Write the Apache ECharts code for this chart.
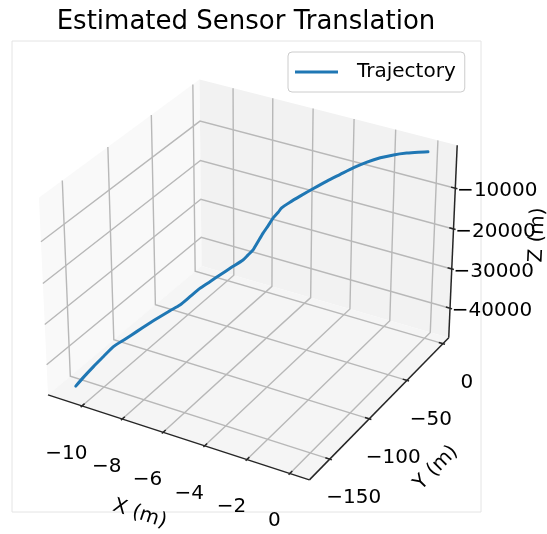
<!DOCTYPE html>
<html><head><meta charset="utf-8">
<script src="https://cdn.jsdelivr.net/npm/echarts@6/dist/echarts.min.js"></script>
<style>html,body{margin:0;padding:0;background:#fff}#c{width:547px;height:534px}</style>
</head><body><div id="c"></div>
<script>
// ---------------- data ----------------
const trajX = [-10.70,-10.45,-10.15,-9.85,-9.55,-9.20,-8.85,-8.50,-8.15,-7.85,-7.55,-7.25,-6.95,-6.65,-6.35,-6.00,-5.66,-5.51,-5.36,-5.21,-5.06,-4.91,-4.76,-4.61,-4.51,-4.26,-3.96,-3.56,-3.16,-2.76,-2.36,-1.96,-1.56,-1.16,-0.76,-0.41,-0.11];
const trajY = [-165.8,-162.0,-157.3,-152.7,-148.0,-142.6,-137.2,-131.8,-126.4,-121.7,-117.1,-112.4,-107.8,-103.1,-98.5,-93.1,-87.7,-85.3,-83.0,-80.7,-78.4,-76.1,-73.7,-71.4,-69.8,-66.0,-61.3,-55.2,-48.9,-42.8,-36.6,-30.4,-24.2,-18.0,-11.8,-6.4,-1.8];
const trajZ = [-45490,-43480,-41250,-39170,-37090,-35710,-34270,-32820,-31460,-30360,-29330,-27670,-25980,-24730,-23460,-22000,-20640,-19600,-18560,-16700,-14830,-13220,-11520,-10330,-9370,-8310,-7210,-5810,-4520,-3370,-2220,-1340,-760,-520,-530,-710,-940];
const xTicks = [-10, -8, -6, -4, -2, 0];
const yTicks = [-150, -100, -50, 0];
const zTicks = [-40000, -30000, -20000, -10000];
const xLim = [-11.46, 0.65];
const yLim = [-171.1, 4.6];
const zLim = [-46660, -595];
const seriesName = 'Trajectory';
const titleText = 'Estimated Sensor Translation';
const xLabel = 'X (m)', yLabel = 'Y (m)', zLabel = 'Z (m)';

// ---------------- 3D camera (matplotlib-like default view) ----------------
const ELEV = 30, AZIM = -60, DIST = 10;
const ASPECT = [4, 4, 3];
const an = Math.hypot(...ASPECT);
const BOX = ASPECT.map(a => a * 1.8294640721620434 / an);
function padded(l) { const d = (l[1] - l[0]) / 48; return [l[0] - d, l[1] + d]; }
const XB = padded(xLim), YB = padded(yLim), ZB = padded(zLim);
const er = ELEV * Math.PI / 180, ar = AZIM * Math.PI / 180;
const Wv = [Math.cos(er) * Math.cos(ar), Math.cos(er) * Math.sin(ar), Math.sin(er)];
let Uv = [-Wv[1], Wv[0], 0]; const un = Math.hypot(...Uv); Uv = Uv.map(v => v / un);
const Vv = [Wv[1]*Uv[2]-Wv[2]*Uv[1], Wv[2]*Uv[0]-Wv[0]*Uv[2], Wv[0]*Uv[1]-Wv[1]*Uv[0]];
function P(x, y, z) {
  const q = [(x - XB[0]) / (XB[1] - XB[0]) * BOX[0] - BOX[0] / 2,
             (y - YB[0]) / (YB[1] - YB[0]) * BOX[1] - BOX[1] / 2,
             (z - ZB[0]) / (ZB[1] - ZB[0]) * BOX[2] - BOX[2] / 2];
  const d = a => a[0]*q[0] + a[1]*q[1] + a[2]*q[2];
  const den = DIST - d(Wv);
  return [d(Uv) / den, d(Vv) / den];
}
const VIEW_X = [-0.09154, 0.08740], VIEW_Y = [-0.09207, 0.08750];

// ---------------- scene pieces ----------------
const PANES = [
  {pts: [P(XB[0],YB[0],ZB[0]), P(XB[0],YB[1],ZB[0]), P(XB[0],YB[1],ZB[1]), P(XB[0],YB[0],ZB[1])], color: '#f9f9f9'},
  {pts: [P(XB[0],YB[1],ZB[0]), P(XB[1],YB[1],ZB[0]), P(XB[1],YB[1],ZB[1]), P(XB[0],YB[1],ZB[1])], color: '#f2f2f2'},
  {pts: [P(XB[0],YB[0],ZB[0]), P(XB[1],YB[0],ZB[0]), P(XB[1],YB[1],ZB[0]), P(XB[0],YB[1],ZB[0])], color: '#f5f5f5'}
];
const GRID = [];
xTicks.forEach(x => GRID.push([P(x,YB[0],ZB[0]), P(x,YB[1],ZB[0]), P(x,YB[1],ZB[1])]));
yTicks.forEach(y => GRID.push([P(XB[1],y,ZB[0]), P(XB[0],y,ZB[0]), P(XB[0],y,ZB[1])]));
zTicks.forEach(z => GRID.push([P(XB[0],YB[0],z), P(XB[0],YB[1],z), P(XB[1],YB[1],z)]));

const dX = (xLim[1]-xLim[0])/12, dY = (yLim[1]-yLim[0])/12;
const AXES = [
  [P(XB[0],YB[0],ZB[0]), P(XB[1],YB[0],ZB[0])],
  [P(XB[1],YB[0],ZB[0]), P(XB[1],YB[1],ZB[0])],
  [P(XB[1],YB[1],ZB[0]), P(XB[1],YB[1],ZB[1])]
];
xTicks.forEach(x => AXES.push([P(x,YB[0]-0.1*dY,ZB[0]), P(x,YB[0]+0.2*dY,ZB[0])]));
yTicks.forEach(y => AXES.push([P(XB[1]+0.1*dX,y,ZB[0]), P(XB[1]-0.2*dX,y,ZB[0])]));
zTicks.forEach(z => AXES.push([P(XB[1]+0.1*dX,YB[1],z), P(XB[1]-0.2*dX,YB[1],z)]));

const fmt = v => (v < 0 ? '\u2212' + Math.abs(v) : String(v));
const F20 = '20px "DejaVu Sans"';
const LABELS = [];
xTicks.forEach(x => LABELS.push({p: P(x,YB[0],ZB[0]), dx: -15.5, dy: 47.5, text: fmt(x), font: F20}));
yTicks.forEach(y => LABELS.push({p: P(XB[1],y,ZB[0]), dx: 24, dy: 39, text: fmt(y), font: F20}));
zTicks.forEach(z => LABELS.push({p: P(XB[1],YB[1],z), dx: 42, dy: 3, text: fmt(z), font: F20}));
function mid(a, b) { return [(a[0]+b[0])/2, (a[1]+b[1])/2]; }
LABELS.push({p: mid(AXES[0][0], AXES[0][1]), dx: -39, dy: 76.5, text: xLabel, font: F20, axis: 0});
LABELS.push({p: mid(AXES[1][0], AXES[1][1]), dx: 57, dy: 59, text: yLabel, font: F20, axis: 1});
LABELS.push({p: mid(AXES[2][0], AXES[2][1]), dx: 84.5, dy: -6.5, text: zLabel, font: F20, axis: 2});

const trajData = trajX.map((x, i) => P(x, trajY[i], trajZ[i]));

// ---------------- chart ----------------
const chart = echarts.init(document.getElementById('c'));
chart.setOption({
  animation: false,
  backgroundColor: '#ffffff',
  grid: {left: 12, top: 41, width: 469, height: 471, show: true, borderColor: '#e4e4e4', borderWidth: 1, backgroundColor: 'transparent'},
  xAxis: {type: 'value', min: VIEW_X[0], max: VIEW_X[1], show: false},
  yAxis: {type: 'value', min: VIEW_Y[0], max: VIEW_Y[1], show: false},
  graphic: [{type: 'text', x: 246, y: 22, style: {text: titleText, font: '26px "DejaVu Sans"', fill: '#000', align: 'center', verticalAlign: 'middle'}}],
  legend: {
    data: [{name: seriesName, icon: 'rect'}], left: 288, top: 52, padding: [9, 9, 9, 7],
    itemWidth: 43, itemHeight: 3, borderColor: '#cccccc', borderWidth: 1, borderRadius: 4,
    backgroundColor: 'rgba(255,255,255,0.8)',
    textStyle: {fontFamily: 'DejaVu Sans', fontSize: 20, color: '#000', lineHeight: 22, padding: [0, 0, 0, 14]}
  },
  series: [
    {type: 'custom', name: 'panes', z: 1, silent: true, clip: false, data: PANES.map(p => p.pts[0]),
     renderItem: (params, api) => ({type: 'polygon', shape: {points: PANES[params.dataIndex].pts.map(p => api.coord(p))}, style: {fill: PANES[params.dataIndex].color}})},
    {type: 'custom', name: 'grid3d', z: 2, silent: true, clip: false, data: GRID.map(g => g[0]),
     renderItem: (params, api) => ({type: 'polyline', shape: {points: GRID[params.dataIndex].map(p => api.coord(p))}, style: {stroke: '#b8b8b8', lineWidth: 1.4, fill: null}})},
    {type: 'line', name: seriesName, z: 3, clip: false, data: trajData, showSymbol: false, smooth: 0.2,
     color: '#1f77b4', lineStyle: {color: '#1f77b4', width: 3, cap: 'round', join: 'round'}},
    {type: 'custom', name: 'axes3d', z: 4, silent: true, clip: false, data: AXES.map(a => a[0]),
     renderItem: (params, api) => ({type: 'polyline', shape: {points: AXES[params.dataIndex].map(p => api.coord(p))}, style: {stroke: '#262626', lineWidth: 1.5, fill: null}})},
    {type: 'custom', name: 'labels3d', z: 5, silent: true, clip: false, data: LABELS.map(l => l.p),
     renderItem: (params, api) => {
       const L = LABELS[params.dataIndex];
       const c = api.coord(L.p);
       let rot = 0;
       if (L.axis !== undefined) {
         const a = api.coord(AXES[L.axis][0]), b = api.coord(AXES[L.axis][1]);
         rot = Math.atan2(-(b[1] - a[1]), b[0] - a[0]);
       }
       return {type: 'text', x: c[0] + L.dx, y: c[1] + L.dy, rotation: rot,
               style: {text: L.text, font: L.font, fill: '#000', align: 'center', verticalAlign: 'middle'}};
     }}
  ]
});
</script></body></html>
